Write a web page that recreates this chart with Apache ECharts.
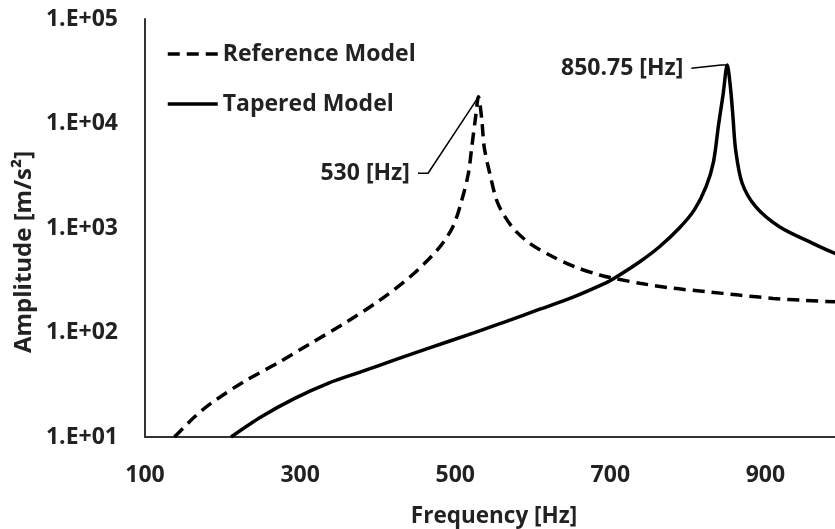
<!DOCTYPE html>
<html>
<head>
<meta charset="utf-8">
<script src="https://cdn.jsdelivr.net/npm/echarts@6/dist/echarts.min.js"></script>
<style>
  html, body { margin: 0; padding: 0; background: #fff; }
  #chart { width: 835px; height: 529px; }
</style>
</head>
<body>
<div id="chart"></div>
<script>
// Frequency response of the two beam models (acceleration amplitude vs. frequency)
const refFreq = [138, 164, 185, 228, 271, 314, 357, 400, 443, 478, 497, 508.5, 517, 521.4, 525.8, 530,
                 534.3, 537.3, 544.5, 555, 573, 596, 626, 654, 686, 705, 738, 781, 824, 866, 910, 950, 1000];
const refAmp  = [10, 15.6, 21, 34, 51, 79, 122, 197, 347, 630, 1030, 1850, 3340, 6000, 10800, 18000,
                 10800, 6000, 3340, 1720, 1030, 713, 531, 426, 355, 330, 296, 265, 246, 228, 212, 203, 195];

const tapFreq = [211, 250, 293, 336, 379, 422, 465, 523, 566, 609, 652, 695, 705, 738, 763, 789, 808.5,
                 823.6, 833, 839.5, 845.3, 850.75, 855.2, 858.1, 861.6, 870, 887.4, 918, 961, 989, 1000];
const tapAmp  = [10, 15.6, 23.4, 32.6, 42.2, 54.6, 70.6, 98.5, 128, 167, 218, 300, 330, 476, 658, 1000, 1500,
                 2500, 4300, 9680, 18750, 36300, 20900, 11600, 5570, 2680, 1600, 1028, 713, 575, 550];

// Resonance call-outs: label text and leader-line vertices [Hz, m/s²]
const peakRefLabel = '530 [Hz]';
const peakRefLeader = [[452, 3340], [465, 3340], [530, 18000]];
const peakTapLabel = '850.75 [Hz]';
const peakTapLeader = [[804.5, 33700], [843, 36300], [850.75, 36300]];

const xTicks = { min: 100, max: 1000, interval: 200 };
const yTicks = { min: 10, max: 100000 };

const FONT = '"Open Sans", "DejaVu Sans", sans-serif';
const TEXT = '#222';
const zip = (xs, ys) => xs.map((x, i) => [x, ys[i]]);

function leaderSeries(points, text) {
  return {
    type: 'line',
    silent: true,
    symbol: 'circle',
    symbolSize: 0.1,
    showSymbol: true,
    z: 5,
    lineStyle: { color: '#000', width: 1.5 },
    itemStyle: { color: '#000' },
    data: points.map((p, i) => i === 0 ? {
      value: p,
      label: {
        show: true, position: 'left', distance: 8, formatter: text,
        fontFamily: FONT, fontWeight: 'bold', fontSize: 23, color: TEXT
      }
    } : { value: p })
  };
}

const chart = echarts.init(document.getElementById('chart'), null, { renderer: 'canvas' });
chart.setOption({
  animation: false,
  backgroundColor: '#fff',
  grid: { left: 145, right: -8, top: 19, bottom: 92, containLabel: false, outerBoundsMode: 'none' },
  legend: {
    data: ['Reference Model', 'Tapered Model'],
    orient: 'vertical',
    left: 166, top: 41, padding: 0,
    itemWidth: 50, itemHeight: 26, itemGap: 24,
    itemStyle: { opacity: 0 },
    lineStyle: { width: 3.5 },
    textStyle: { fontFamily: FONT, fontWeight: 'bold', fontSize: 23, color: TEXT, lineHeight: 26 }
  },
  xAxis: {
    type: 'value',
    min: xTicks.min, max: xTicks.max, interval: xTicks.interval,
    name: 'Frequency [Hz]',
    nameLocation: 'middle', nameGap: 68,
    nameTextStyle: { fontFamily: FONT, fontWeight: 'bold', fontSize: 22.5, color: TEXT },
    axisLine: { lineStyle: { color: '#333', width: 2 } },
    axisTick: { show: false },
    splitLine: { show: false },
    axisLabel: {
      showMaxLabel: false, margin: 27,
      fontFamily: FONT, fontWeight: 'bold', fontSize: 23, color: TEXT
    }
  },
  yAxis: {
    type: 'log', logBase: 10,
    min: yTicks.min, max: yTicks.max,
    axisLine: { show: true, lineStyle: { color: '#333', width: 2 } },
    axisTick: { show: false },
    splitLine: { show: false },
    axisLabel: {
      margin: 27,
      fontFamily: FONT, fontWeight: 'bold', fontSize: 23, color: TEXT,
      formatter: v => '1.E+' + String(Math.round(Math.log10(v))).padStart(2, '0')
    }
  },
  graphic: [{
    type: 'text',
    x: 24, y: 252,
    rotation: Math.PI / 2,
    style: {
      text: 'Amplitude [m/s²]',
      font: 'bold 24px ' + FONT,
      fill: TEXT, align: 'center', verticalAlign: 'middle'
    }
  }],
  series: [
    {
      name: 'Reference Model',
      type: 'line',
      data: zip(refFreq, refAmp),
      showSymbol: false, symbol: 'none',
      smooth: 0.3,
      clip: true,
      lineStyle: { color: '#000', width: 3.5, type: [12, 7] },
      itemStyle: { color: '#000' }
    },
    {
      name: 'Tapered Model',
      type: 'line',
      data: zip(tapFreq, tapAmp),
      showSymbol: false, symbol: 'none',
      smooth: 0.3,
      clip: true,
      lineStyle: { color: '#000', width: 3.5 },
      itemStyle: { color: '#000' }
    },
    leaderSeries(peakRefLeader, peakRefLabel),
    leaderSeries(peakTapLeader, peakTapLabel)
  ]
});
</script>
</body>
</html>
